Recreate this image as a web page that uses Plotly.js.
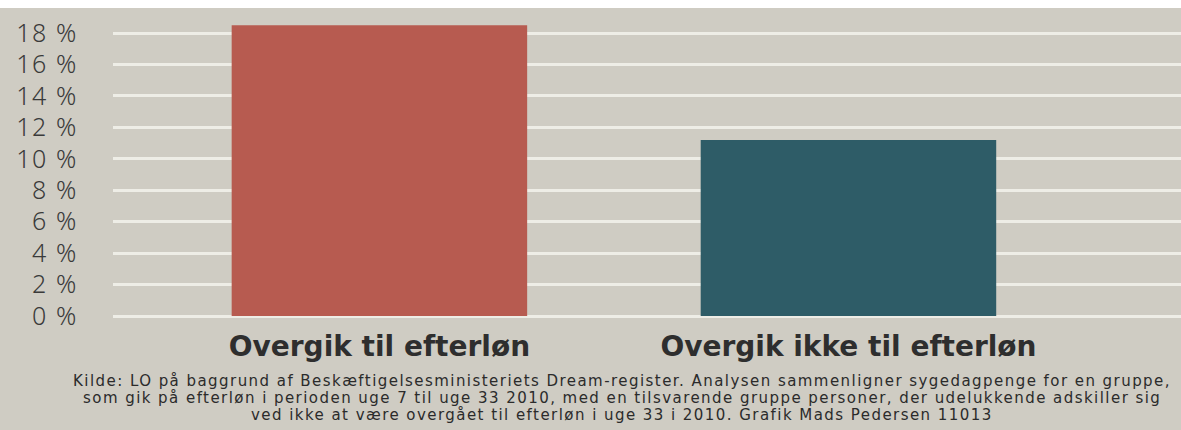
<!DOCTYPE html>
<html>
<head>
<meta charset="utf-8">
<script src="https://cdn.plot.ly/plotly-3.0.1.min.js"></script>
<style>
html,body{margin:0;padding:0;background:#fff;}
#chart{width:1181px;height:430px;}
.ytick text{letter-spacing:1.6px;}
.annotation-text{letter-spacing:1.45px;}
</style>
</head>
<body>
<div id="chart"></div>
<script>
const categories = ["Overgik til efterløn", "Overgik ikke til efterløn"];
const values = [18.5, 11.2];
const barColors = ["#b75b50", "#2e5c67"];
const tickValues = [0, 2, 4, 6, 8, 10, 12, 14, 16, 18];
const sourceLines = [
  "Kilde: LO på baggrund af Beskæftigelsesministeriets Dream-register. Analysen sammenligner sygedagpenge for en gruppe,",
  "som gik på efterløn i perioden uge 7 til uge 33 2010, med en tilsvarende gruppe personer, der udelukkende adskiller sig",
  "ved ikke at være overgået til efterløn i uge 33 i 2010. Grafik Mads Pedersen 11013"
];

const bg = "#cfccc3";
const trace = {
  type: "bar",
  x: categories,
  y: values,
  marker: {color: barColors, line: {width: 0}},
  width: 0.63,
  hoverinfo: "none"
};
// plot area: y from 8 to 320 px (312 px tall)
const captionY = [381, 398, 415];
const layout = {
  width: 1181, height: 430,
  margin: {l: 113, r: 0, t: 8, b: 110},
  paper_bgcolor: bg,
  plot_bgcolor: bg,
  showlegend: false,
  xaxis: {
    type: "category",
    range: [-0.568, 1.709],
    showgrid: false, zeroline: false, showline: false,
    ticks: "",
    ticklabelstandoff: 7,
    tickfont: {family: "DejaVu Sans", size: 28, color: "#2e2e2e", weight: "bold"}
  },
  yaxis: {
    range: [-0.254, 19.59],
    tickmode: "array",
    tickvals: tickValues,
    ticktext: tickValues.map(v => v + " %"),
    showgrid: true, gridcolor: "#eeede6", gridwidth: 3,
    zeroline: false, showline: false,
    ticks: "",
    ticklabelstandoff: 34,
    tickfont: {family: "Noto Sans, DejaVu Sans", size: 25, color: "#3a3a3a", weight: 300}
  },
  shapes: [{
    type: "rect", xref: "paper", yref: "paper",
    x0: -0.2, x1: 1.01, y0: 1, y1: 1.04,
    fillcolor: "#ffffff", line: {width: 0}
  }],
  annotations: sourceLines.map((t, i) => ({
    xref: "paper", yref: "paper",
    x: (622 - 113) / 1068, y: (320 - captionY[i]) / 312,
    xanchor: "center", yanchor: "middle",
    text: t, showarrow: false, align: "center",
    font: {family: "DejaVu Sans", size: 15, color: "#2b2b2b"}
  }))
};
Plotly.newPlot("chart", [trace], layout, {staticPlot: true, displayModeBar: false});
</script>
</body>
</html>
